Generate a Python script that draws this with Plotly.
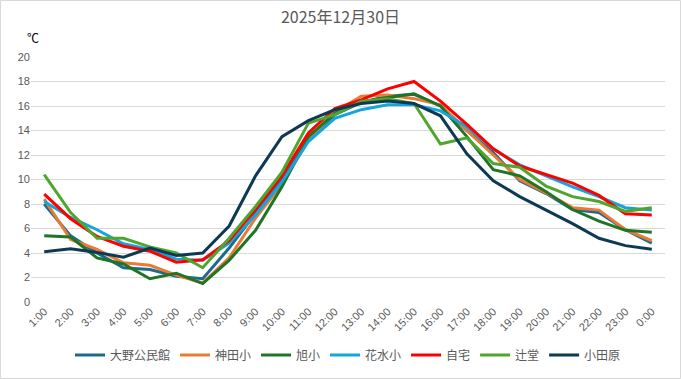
import plotly.graph_objects as go

hours = ["1:00","2:00","3:00","4:00","5:00","6:00","7:00","8:00","9:00","10:00","11:00","12:00",
         "13:00","14:00","15:00","16:00","17:00","18:00","19:00","20:00","21:00","22:00","23:00","0:00"]

ono = [8.0, 5.4, 4.0, 2.8, 2.65, 2.1, 1.9, 4.4, 7.25, 10.0, 13.3, 15.3,
       16.3, 16.8, 16.95, 16.0, 14.0, 12.2, 9.9, 8.85, 7.55, 7.3, 5.9, 4.8]
kanda = [8.4, 5.1, 4.3, 3.2, 3.0, 2.2, 1.55, 3.6, 6.85, 9.6, 13.2, 15.5,
         16.8, 16.9, 16.6, 16.1, 14.0, 12.0, 10.0, 8.9, 7.7, 7.5, 5.9, 5.0]
asahi = [5.4, 5.3, 3.6, 3.1, 1.9, 2.35, 1.5, 3.4, 5.85, 9.4, 13.5, 15.4,
         16.3, 16.7, 17.0, 16.0, 13.5, 10.8, 10.3, 9.0, 7.55, 6.6, 5.85, 5.7]
hanamizu = [8.2, 6.9, 5.9, 4.75, 4.3, 3.5, 3.4, 4.8, 7.1, 9.8, 13.1, 15.0,
            15.7, 16.1, 16.1, 15.6, 14.3, 12.5, 11.2, 10.3, 9.4, 8.6, 7.7, 7.5]
jitaku = [8.8, 6.8, 5.35, 4.55, 4.15, 3.25, 3.45, 5.0, 7.55, 10.3, 13.8, 15.8,
          16.5, 17.4, 18.0, 16.4, 14.5, 12.5, 11.1, 10.4, 9.7, 8.7, 7.2, 7.1]
tsujido = [10.4, 7.3, 5.2, 5.2, 4.5, 4.0, 2.8, 5.2, 7.8, 10.6, 14.6, 15.3,
           16.4, 16.6, 16.2, 12.9, 13.4, 11.3, 11.0, 9.45, 8.6, 8.2, 7.4, 7.7]
odawara = [4.1, 4.35, 4.05, 3.65, 4.4, 3.8, 4.0, 6.2, 10.3, 13.5, 14.8, 15.7,
           16.2, 16.4, 16.2, 15.2, 12.1, 9.9, 8.6, 7.5, 6.4, 5.2, 4.6, 4.3]

series = [
    ("大野公民館", ono, "#1C6B8F"),
    ("神田小", kanda, "#EB7A35"),
    ("旭小", asahi, "#1F7426"),
    ("花水小", hanamizu, "#14A5DF"),
    ("自宅", jitaku, "#FF0000"),
    ("辻堂", tsujido, "#4EA62E"),
    ("小田原", odawara, "#0D3A52"),
]

y_ticks = list(range(0, 21, 2))

fig = go.Figure()
for name, vals, col in series:
    fig.add_trace(go.Scatter(x=hours, y=vals, name=name, mode="lines",
                             line=dict(color=col, width=3)))

L, R, T, B = 31, 16, 57, 77
W, H = 681, 379
pw, ph = W - L - R, H - T - B

fig.update_layout(
    width=W, height=H,
    margin=dict(l=L, r=R, t=T, b=B, autoexpand=False),
    paper_bgcolor="white", plot_bgcolor="white",
    font=dict(family="Noto Sans CJK JP, Noto Sans", color="#595959", size=11),
    title=dict(text="2025年12月30日", x=0.5, xanchor="center", y=1 - 17 / H, yanchor="middle",
               font=dict(size=16, color="#595959", family="Noto Sans CJK JP")),
    xaxis=dict(type="category", range=[-0.5, 23.5], showgrid=False, zeroline=False,
               showline=False, ticks="", tickangle=-45,
               tickfont=dict(size=11, color="#595959", family="Liberation Sans")),
    yaxis=dict(range=[0, 20], tickvals=y_ticks, showgrid=True, gridcolor="#D9D9D9",
               gridwidth=1, zeroline=False, showline=False, ticks="",
               tickfont=dict(size=11, color="#595959", family="Liberation Sans"),
               fixedrange=True),
    legend=dict(orientation="h", x=0.5, xanchor="center", y=-(355 - (H - B)) / ph,
                yanchor="middle", font=dict(size=12, color="#595959", family="Noto Sans CJK JP"),
                itemwidth=30, tracegroupgap=0, bgcolor="rgba(0,0,0,0)"),
    showlegend=True,
    shapes=[dict(type="rect", xref="paper", yref="paper",
                 x0=(0.5 - L) / pw, x1=(W - 0.5 - L) / pw,
                 y0=((H - B) - (H - 0.5)) / ph, y1=((H - B) - 0.5) / ph,
                 line=dict(color="#D9D9D9", width=1), fillcolor="rgba(0,0,0,0)", layer="below")],
    annotations=[dict(text="℃", xref="paper", yref="paper", x=(33 - L) / pw,
                      y=((H - B) - 38) / ph, xanchor="center", yanchor="middle",
                      showarrow=False, font=dict(size=12, color="#000000", family="Noto Sans CJK JP"))],
)

fig.write_html("out.html", config={"displayModeBar": False},
               post_script="document.body.style.margin='0';document.body.style.padding='0';document.body.style.overflow='hidden';")
